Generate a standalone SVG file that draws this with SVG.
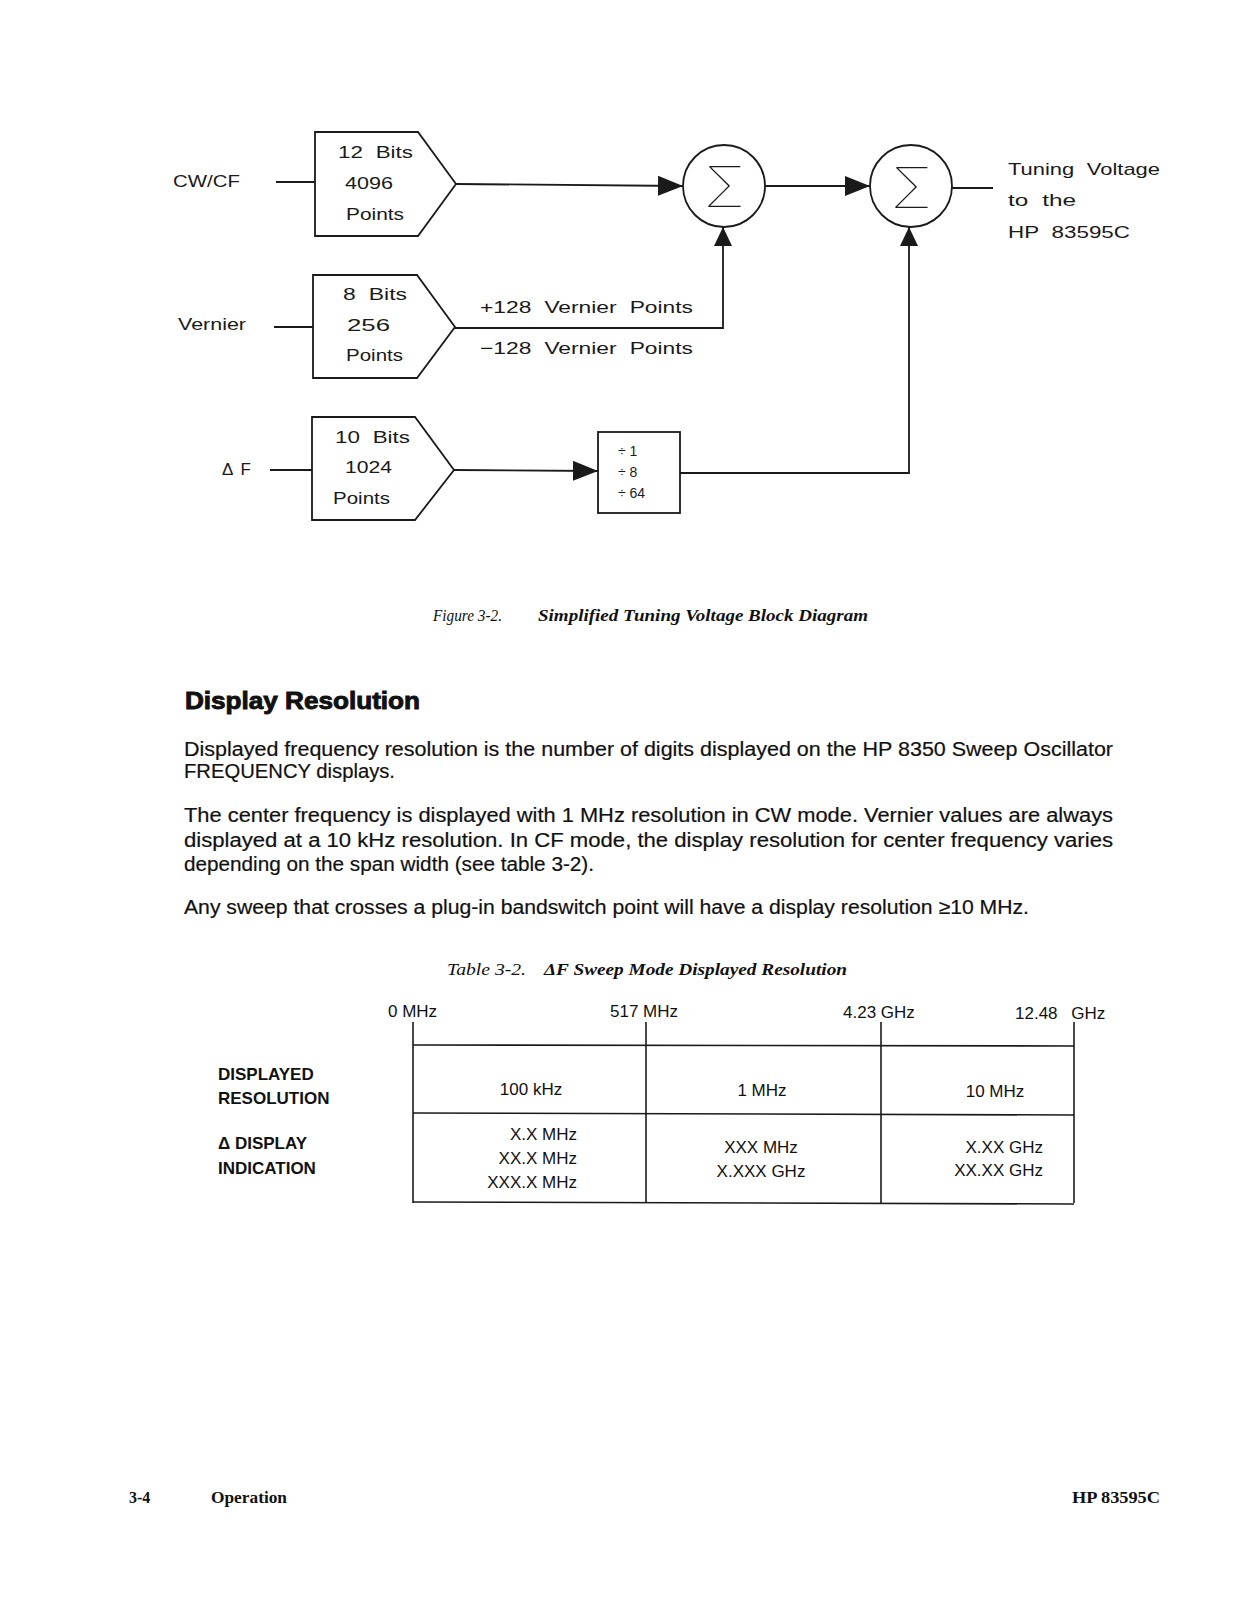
<svg xmlns="http://www.w3.org/2000/svg" width="1237" height="1600" viewBox="0 0 1237 1600">
<style>
  .dg { font-family: "Liberation Sans", Arial, sans-serif; font-size: 17px; fill: #1a1a1a; word-spacing: 5px; }
  .sm { font-family: "Liberation Sans", Arial, sans-serif; font-size: 14px; fill: #1a1a1a; }
  .sig { font-family: "Inter", "Noto Sans", sans-serif; font-weight: 100; font-size: 56px; fill: #1a1a1a; }
  .shape { fill: #ffffff; stroke: #1a1a1a; stroke-width: 1.8; }
  .wire { fill: none; stroke: #1a1a1a; stroke-width: 1.8; }
  .body { font-family: "Liberation Sans", Arial, sans-serif; font-size: 20px; fill: #111; stroke: #111; stroke-width: 0.2; }
  .head { font-family: "Liberation Sans", Arial, sans-serif; font-size: 23px; font-weight: bold; fill: #111; stroke: #111; stroke-width: 0.9; }
  .cap { font-family: "Liberation Serif", "Times New Roman", serif; font-size: 16px; font-style: italic; fill: #111; }
  .capb { font-weight: bold; }
  .tb { font-family: "Liberation Sans", Arial, sans-serif; font-size: 17px; fill: #111; }
  .tbl { font-family: "Liberation Sans", Arial, sans-serif; font-size: 17px; font-weight: bold; fill: #111; }
  .grid { fill: none; stroke: #1a1a1a; stroke-width: 1.6; }
  .foot { font-family: "Liberation Serif", "Times New Roman", serif; font-size: 16px; font-weight: bold; fill: #111; }
</style>
<defs>
  <marker id="ah" markerUnits="userSpaceOnUse" markerWidth="26" markerHeight="22" refX="25" refY="10" orient="auto">
    <path d="M0,0 L25,10 L0,20 Z" fill="#1a1a1a"/>
  </marker>
  <marker id="av" markerUnits="userSpaceOnUse" markerWidth="20" markerHeight="20" refX="19" refY="9" orient="auto">
    <path d="M0,0 L19,9 L0,18 Z" fill="#1a1a1a"/>
  </marker>
</defs>

<!-- input labels -->
<g id="label-cwcf"><text class="dg" x="173" y="187" textLength="67" lengthAdjust="spacingAndGlyphs">CW/CF</text></g>
<g id="label-vernier"><text class="dg" x="178" y="330" textLength="68" lengthAdjust="spacingAndGlyphs">Vernier</text></g>
<g id="label-df"><text class="dg" x="222" y="475" textLength="29" lengthAdjust="spacing">ΔF</text></g>

<!-- DAC boxes -->
<g id="dac-cwcf">
  <path class="shape" d="M315,132 H418 L456,184 L418,236 H315 Z"/>
  <text class="dg" x="338" y="158" textLength="75" lengthAdjust="spacingAndGlyphs">12 Bits</text>
  <text class="dg" x="345" y="189" textLength="48" lengthAdjust="spacingAndGlyphs">4096</text>
  <text class="dg" x="346" y="220" textLength="58" lengthAdjust="spacingAndGlyphs">Points</text>
</g>
<g id="dac-vernier">
  <path class="shape" d="M313,275 H417 L455,327 L417,378 H313 Z"/>
  <text class="dg" x="343" y="300" textLength="64" lengthAdjust="spacingAndGlyphs">8 Bits</text>
  <text class="dg" x="347" y="331" textLength="43" lengthAdjust="spacingAndGlyphs">256</text>
  <text class="dg" x="346" y="361" textLength="57" lengthAdjust="spacingAndGlyphs">Points</text>
</g>
<g id="dac-df">
  <path class="shape" d="M312,417 H415 L454,470 L415,520 H312 Z"/>
  <text class="dg" x="335" y="443" textLength="75" lengthAdjust="spacingAndGlyphs">10 Bits</text>
  <text class="dg" x="345" y="473" textLength="47" lengthAdjust="spacingAndGlyphs">1024</text>
  <text class="dg" x="333" y="504" textLength="57" lengthAdjust="spacingAndGlyphs">Points</text>
</g>

<!-- divider -->
<g id="divider">
  <rect class="shape" x="598" y="432" width="82" height="81"/>
  <text class="sm" x="618" y="456">÷ 1</text>
  <text class="sm" x="618" y="477">÷ 8</text>
  <text class="sm" x="618" y="498">÷ 64</text>
</g>

<!-- summing junctions -->
<g id="sum1">
  <circle class="shape" cx="724" cy="186" r="41"/>
  <text class="sig" x="704" y="207" textLength="41" lengthAdjust="spacingAndGlyphs">Σ</text>
</g>
<g id="sum2">
  <circle class="shape" cx="911" cy="186" r="41"/>
  <text class="sig" x="891" y="208" textLength="41" lengthAdjust="spacingAndGlyphs">Σ</text>
</g>

<!-- output label -->
<g id="label-output">
  <text class="dg" x="1008" y="175" textLength="152" lengthAdjust="spacingAndGlyphs">Tuning Voltage</text>
  <text class="dg" x="1008" y="206" textLength="68" lengthAdjust="spacingAndGlyphs">to the</text>
  <text class="dg" x="1008" y="238" textLength="122" lengthAdjust="spacingAndGlyphs">HP 83595C</text>
</g>

<!-- vernier labels -->
<g id="vernier-labels">
  <text class="dg" x="480" y="313" textLength="213" lengthAdjust="spacingAndGlyphs">+128 Vernier Points</text>
  <text class="dg" x="480" y="354" textLength="213" lengthAdjust="spacingAndGlyphs">−128 Vernier Points</text>
</g>

<!-- connectors -->
<g id="connectors">
  <line class="wire" x1="276" y1="182" x2="315" y2="182"/>
  <line class="wire" x1="274" y1="327" x2="313" y2="327"/>
  <line class="wire" x1="270" y1="470" x2="312" y2="470"/>
  <path class="wire" d="M456,184 L683,186" marker-end="url(#ah)"/>
  <path class="wire" d="M765,186 L870,186" marker-end="url(#ah)"/>
  <line class="wire" x1="952" y1="188" x2="993" y2="188"/>
  <path class="wire" d="M455,328 H723 V227" marker-end="url(#av)"/>
  <path class="wire" d="M454,470 L598,471" marker-end="url(#ah)"/>
  <path class="wire" d="M680,473 H909 V227" marker-end="url(#av)"/>
</g>

<!-- caption -->
<text class="cap" x="433" y="621"><tspan textLength="69" lengthAdjust="spacingAndGlyphs">Figure 3-2.</tspan><tspan class="capb" x="538" textLength="330" lengthAdjust="spacingAndGlyphs">Simplified Tuning Voltage Block Diagram</tspan></text>

<!-- section text -->
<text class="head" x="185" y="709" textLength="235" lengthAdjust="spacingAndGlyphs">Display Resolution</text>
<text class="body" x="184" y="756" textLength="929" lengthAdjust="spacingAndGlyphs">Displayed frequency resolution is the number of digits displayed on the HP 8350 Sweep Oscillator</text>
<text class="body" x="184" y="778" textLength="211" lengthAdjust="spacingAndGlyphs">FREQUENCY displays.</text>
<text class="body" x="184" y="822" textLength="929" lengthAdjust="spacingAndGlyphs">The center frequency is displayed with 1 MHz resolution in CW mode. Vernier values are always</text>
<text class="body" x="184" y="847" textLength="929" lengthAdjust="spacingAndGlyphs">displayed at a 10 kHz resolution. In CF mode, the display resolution for center frequency varies</text>
<text class="body" x="184" y="871" textLength="410" lengthAdjust="spacingAndGlyphs">depending on the span width (see table 3-2).</text>
<text class="body" x="184" y="914" textLength="845" lengthAdjust="spacingAndGlyphs">Any sweep that crosses a plug-in bandswitch point will have a display resolution ≥10 MHz.</text>

<!-- table caption -->
<text class="cap" x="447" y="975"><tspan textLength="79" lengthAdjust="spacingAndGlyphs">Table 3-2.</tspan><tspan class="capb" x="544" textLength="303" lengthAdjust="spacingAndGlyphs">ΔF Sweep Mode Displayed Resolution</tspan></text>

<!-- table -->
<g id="table">
  <g class="grid">
    <line x1="413" y1="1022" x2="413" y2="1203"/>
    <line x1="646" y1="1022" x2="646" y2="1203"/>
    <line x1="881" y1="1022" x2="881" y2="1203"/>
    <line x1="1074" y1="1022" x2="1074" y2="1203"/>
    <line x1="413" y1="1045" x2="1074" y2="1046"/>
    <line x1="413" y1="1113" x2="1074" y2="1115"/>
    <line x1="413" y1="1202" x2="1074" y2="1204"/>
  </g>
  <text class="tb" x="388" y="1017">0 MHz</text>
  <text class="tb" x="610" y="1017">517 MHz</text>
  <text class="tb" x="843" y="1018">4.23 GHz</text>
  <text class="tb" x="1015" y="1019" word-spacing="9">12.48 GHz</text>

  <text class="tbl" x="218" y="1080">DISPLAYED</text>
  <text class="tbl" x="218" y="1104">RESOLUTION</text>
  <text class="tbl" x="218" y="1149">Δ DISPLAY</text>
  <text class="tbl" x="218" y="1174">INDICATION</text>

  <text class="tb" x="531" y="1095" text-anchor="middle">100 kHz</text>
  <text class="tb" x="762" y="1096" text-anchor="middle">1 MHz</text>
  <text class="tb" x="995" y="1097" text-anchor="middle">10 MHz</text>

  <text class="tb" x="577" y="1140" text-anchor="end">X.X MHz</text>
  <text class="tb" x="577" y="1164" text-anchor="end">XX.X MHz</text>
  <text class="tb" x="577" y="1188" text-anchor="end">XXX.X MHz</text>
  <text class="tb" x="761" y="1153" text-anchor="middle">XXX MHz</text>
  <text class="tb" x="761" y="1177" text-anchor="middle">X.XXX GHz</text>
  <text class="tb" x="1043" y="1153" text-anchor="end">X.XX GHz</text>
  <text class="tb" x="1043" y="1176" text-anchor="end">XX.XX GHz</text>
</g>

<!-- footer -->
<text class="foot" x="129" y="1503">3-4</text>
<text class="foot" x="211" y="1503" textLength="76" lengthAdjust="spacingAndGlyphs">Operation</text>
<text class="foot" x="1072" y="1503" textLength="88" lengthAdjust="spacingAndGlyphs">HP 83595C</text>
</svg>
